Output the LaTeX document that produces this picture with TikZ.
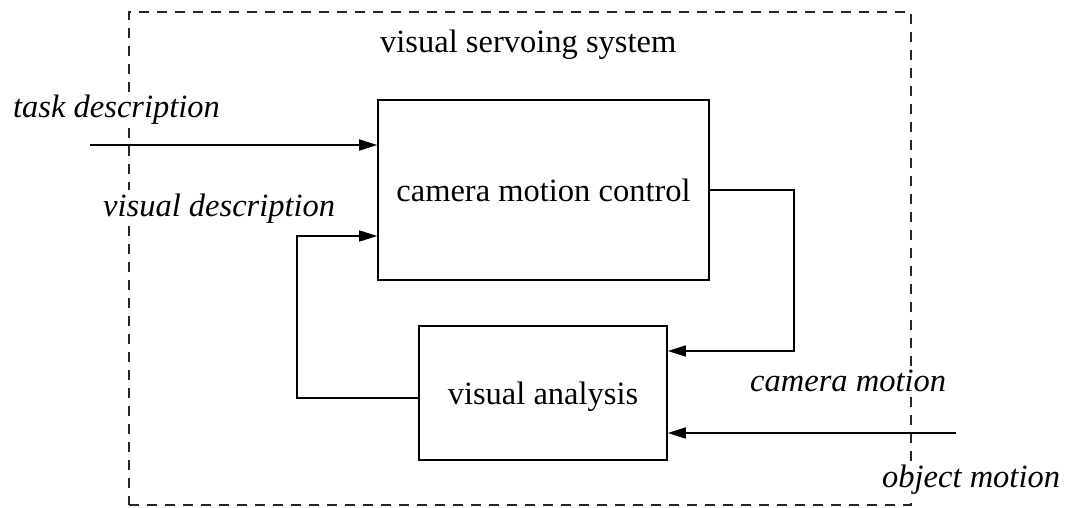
\documentclass[tikz,border=0pt]{standalone}
\usepackage{fontspec}
\setmainfont{Liberation Serif}
\usetikzlibrary{arrows.meta, positioning}

\begin{document}
\begin{tikzpicture}[
    x=1pt, y=-1pt,
    % Style definitions
    block/.style={rectangle, draw=black, line width=1.6pt, text centered,
                  font=\fontsize{32.5}{38}\selectfont},
    systext/.style={anchor=base west, inner sep=3pt,
                    font=\fontsize{32.5}{38}\selectfont},
    sigtext/.style={anchor=base west, inner sep=3pt,
                    font=\fontsize{32.5}{38}\selectfont\itshape},
    arrow/.style={-{Triangle[length=18pt, width=11pt]}, line width=1.6pt},
    sysbox/.style={draw=black!85, line width=1.3pt, dash pattern=on 10pt off 8pt},
]
\useasboundingbox (0,0) rectangle (1068,508);

% Blocks
\node[block, minimum width=331pt, minimum height=180pt] (cmc) at (543.5,190) {camera motion control};
\node[block, minimum width=248pt, minimum height=134pt, text depth=0pt] (va) at (543,393) {visual analysis};

% Texts
\node[systext] (sys) at (377,53) {visual servoing system};
\node[sigtext] (task) at (10,118) {task description};
\node[sigtext] (vdesc) at (100,216) {visual description};
\node[sigtext] (cmot) at (747,391) {camera motion};
\node[sigtext] (omot) at (879,487) {object motion};

% Free ends and corners
\coordinate (taskin) at (90,145);
\coordinate (fbup) at (297,236);
\coordinate (cmdown) at (794,351);
\coordinate (objin) at (956,433);
\coordinate (sysnw) at (129,12);
\coordinate (sysne) at (911,12);
\coordinate (sysse) at (911,505);
\coordinate (syssw) at (129,505);

% System boundary, broken where the texts cross it
\draw[sysbox] (syssw) -- (sysse) -- (sysse |- omot.south);
\draw[sysbox] (sysse |- omot.north) -- (sysse |- cmot.south);
\draw[sysbox] (sysse |- cmot.north) -- (sysne) -- (sysnw) -- (sysnw |- task.north);
\draw[sysbox] (sysnw |- task.south) -- (sysnw |- vdesc.north);
\draw[sysbox] (sysnw |- vdesc.south) -- (syssw);

% Arrows
\draw[arrow] (taskin) -- (taskin -| cmc.west);
\draw[arrow] ([yshift=-5pt]va.west) -| (fbup) -- (fbup -| cmc.west);
\draw[arrow] (cmc.east) -| (cmdown) -- (cmdown -| va.east);
\draw[arrow] (objin) -- (objin -| va.east);

\end{tikzpicture}
\end{document}
